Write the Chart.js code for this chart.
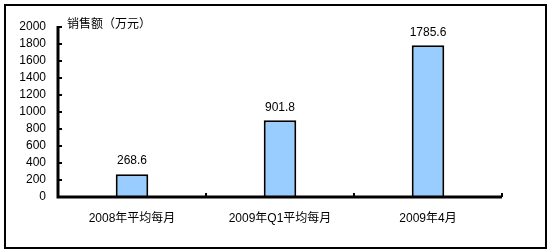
<!DOCTYPE html>
<html>
<head>
<meta charset="utf-8">
<script src="https://cdn.jsdelivr.net/npm/chart.js@4/dist/chart.umd.min.js"></script>
<style>
  html, body { margin: 0; padding: 0; background: #fff; }
  #wrap { width: 552px; height: 252px; }
</style>
</head>
<body>
<div id="wrap"><canvas id="salesChart" width="552" height="252"></canvas></div>
<script>
// data
const categories = ["2008年平均每月", "2009年Q1平均每月", "2009年4月"];
const sales = [268.6, 901.8, 1785.6];
const yTitle = "销售额（万元）";
const yMax = 2000;
const yStep = 200;

const FONT = "'Liberation Sans', Arial, 'Noto Sans CJK SC', sans-serif";

// frame, inner ticks, title and value labels
const decorPlugin = {
  id: "decor",
  afterDraw(chart) {
    const ctx = chart.ctx;
    const x = chart.scales.x;
    const y = chart.scales.y;
    const area = chart.chartArea;
    ctx.save();

    // outer box
    ctx.strokeStyle = "#000";
    ctx.lineWidth = 2;
    ctx.strokeRect(5, 5, 541, 243);

    // axes
    ctx.lineWidth = 3;
    ctx.beginPath();
    ctx.moveTo(area.left, y.getPixelForValue(yMax) - 1);
    ctx.lineTo(area.left, area.bottom);
    ctx.lineTo(area.right, area.bottom);
    ctx.stroke();

    // y ticks pointing inside
    ctx.lineWidth = 2;
    y.ticks.forEach(t => {
      const py = Math.round(y.getPixelForValue(t.value));
      ctx.beginPath();
      ctx.moveTo(area.left, py);
      ctx.lineTo(area.left + 4, py);
      ctx.stroke();
    });

    // x ticks at category boundaries
    for (let i = 0; i <= categories.length; i++) {
      const px = Math.round(x.getPixelForValue(i - 0.5));
      ctx.beginPath();
      ctx.moveTo(px, area.bottom);
      ctx.lineTo(px, area.bottom - 4);
      ctx.stroke();
    }

    // axis title
    ctx.fillStyle = "#000";
    ctx.font = "12px " + FONT;
    ctx.textAlign = "left";
    ctx.textBaseline = "middle";
    ctx.fillText(yTitle, area.left + 9, 25);

    // value labels
    ctx.font = "12px " + FONT;
    ctx.textAlign = "center";
    const meta = chart.getDatasetMeta(0);
    meta.data.forEach((bar, i) => {
      ctx.fillText(sales[i].toFixed(1), bar.x, bar.y - 13);
    });
    ctx.restore();
  }
};

new Chart(document.getElementById("salesChart"), {
  type: "bar",
  data: {
    labels: categories,
    datasets: [{
      data: sales,
      backgroundColor: "#99CCFF",
      borderColor: "#000",
      borderWidth: 2,
      categoryPercentage: 1,
      barPercentage: 0.22
    }]
  },
  options: {
    responsive: false,
    animation: false,
    maintainAspectRatio: false,
    layout: { padding: { top: 27, right: 50, left: 0, bottom: 0 } },
    plugins: {
      legend: { display: false },
      tooltip: { enabled: false }
    },
    scales: {
      x: {
        grid: { display: false, drawTicks: false },
        border: { display: false },
        ticks: {
          color: "#000",
          font: { size: 12, family: FONT },
          padding: 14,
          maxRotation: 0
        },
        afterFit(scale) { scale.height = 55; }
      },
      y: {
        min: 0,
        max: yMax,
        grid: { display: false, drawTicks: false },
        border: { display: false },
        ticks: {
          stepSize: yStep,
          autoSkip: false,
          color: "#000",
          font: { size: 12, family: FONT },
          padding: 12,
          callback: v => String(v)
        },
        afterFit(scale) { scale.width = 58; }
      }
    }
  },
  plugins: [decorPlugin]
});
</script>
</body>
</html>
